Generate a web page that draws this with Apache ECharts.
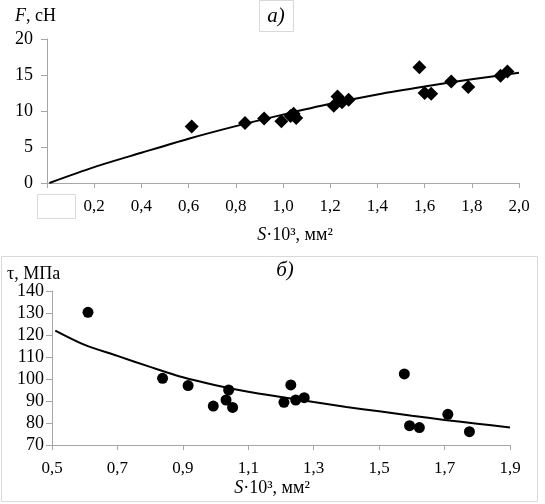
<!DOCTYPE html>
<html>
<head>
<meta charset="utf-8">
<script src="https://cdn.jsdelivr.net/npm/echarts@6/dist/echarts.min.js"></script>
<style>
  html, body { margin: 0; padding: 0; background: #fff; }
  #chart { width: 545px; height: 504px; }
</style>
</head>
<body>
<div id="chart"></div>
<script>
// верхний график (а): F от S
var sTop = [0.613, 0.839, 0.920, 0.993, 1.032, 1.045, 1.056, 1.215, 1.231, 1.250, 1.278, 1.578, 1.600, 1.628, 1.713, 1.785, 1.922, 1.951];
var fTop = [7.86, 8.33, 8.97, 8.56, 9.3, 9.63, 9.03, 10.74, 12.03, 11.2, 11.57, 16.06, 12.5, 12.4, 14.1, 13.33, 14.9, 15.5];
var trendTopS = [0.01, 0.2, 0.4, 0.6, 0.8, 1.0, 1.2, 1.4, 1.6, 1.8, 2.0];
var trendTopF = [0, 2.2, 4.2, 6.15, 7.9, 9.5, 11.0, 12.3, 13.4, 14.4, 15.3];
var xTicksTop = [0, 0.2, 0.4, 0.6, 0.8, 1.0, 1.2, 1.4, 1.6, 1.8, 2.0];
var yTicksTop = [0, 5, 10, 15, 20];

// нижний график (б): τ от S
var sBot = [0.610, 0.838, 0.916, 0.993, 1.032, 1.040, 1.052, 1.209, 1.230, 1.245, 1.271, 1.577, 1.593, 1.623, 1.710, 1.776];
var tauBot = [130.3, 100.3, 97.0, 87.7, 90.45, 95.0, 87.1, 89.4, 97.3, 90.45, 91.5, 102.3, 78.8, 77.9, 83.95, 76.05];
var trendBotS = [0.51, 0.6, 0.7, 0.8, 0.9, 1.0, 1.1, 1.2, 1.3, 1.4, 1.5, 1.6, 1.7, 1.8, 1.9];
var trendBotTau = [122, 115.5, 110.5, 105.5, 100.8, 97.2, 94.2, 91.8, 89.5, 87.3, 85.3, 83.3, 81.4, 79.7, 78.0];
var xTicksBot = [0.5, 0.7, 0.9, 1.1, 1.3, 1.5, 1.7, 1.9];
var yTicksBot = [70, 80, 90, 100, 110, 120, 130, 140];

function pairs(xs, ys) {
  return xs.map(function (x, i) { return [x, ys[i]]; });
}

var FONT = 'Liberation Serif';
var axisGray = '#a6a6a6';

function xAxisOpt(grid, min, max, ticks, hideZero) {
  return {
    type: 'value', gridIndex: grid, min: min, max: max,
    axisLine: { show: true, lineStyle: { color: axisGray, width: 1 } },
    axisTick: { show: true, length: 5, lineStyle: { color: axisGray }, customValues: ticks },
    axisLabel: {
      customValues: ticks, margin: 15, color: '#000', fontFamily: FONT, fontSize: 17,
      formatter: function (v) {
        if (hideZero && v === 0) return '';
        return v.toFixed(1).replace('.', ',');
      }
    },
    splitLine: { show: false }
  };
}

function yAxisOpt(grid, min, max, ticks, margin) {
  return {
    type: 'value', gridIndex: grid, min: min, max: max,
    axisLine: { show: true, lineStyle: { color: axisGray, width: 1 } },
    axisTick: { show: true, length: 6, lineStyle: { color: axisGray }, customValues: ticks },
    axisLabel: { customValues: ticks, margin: margin, color: '#000', fontFamily: FONT, fontSize: 18 },
    splitLine: { show: false }
  };
}

var chart = echarts.init(document.getElementById('chart'));

var option = {
  animation: false,
  backgroundColor: '#fff',
  grid: [
    { left: 47, right: 26, top: 39, height: 144 },
    { left: 52, right: 35, top: 291, height: 154 }
  ],
  xAxis: [
    xAxisOpt(0, 0, 2, xTicksTop, true),
    xAxisOpt(1, 0.5, 1.9, xTicksBot, false)
  ],
  yAxis: [
    yAxisOpt(0, 0, 20, yTicksTop, 14),
    yAxisOpt(1, 70, 140, yTicksBot, 8)
  ],
  series: [
    {
      type: 'line', xAxisIndex: 0, yAxisIndex: 0, data: pairs(trendTopS, trendTopF),
      smooth: 0.3, symbol: 'none', lineStyle: { color: '#000', width: 2 }, z: 2
    },
    {
      type: 'scatter', xAxisIndex: 0, yAxisIndex: 0, data: pairs(sTop, fTop),
      symbol: 'diamond', symbolSize: 14, itemStyle: { color: '#000', opacity: 1 }, z: 3
    },
    {
      type: 'line', xAxisIndex: 1, yAxisIndex: 1, data: pairs(trendBotS, trendBotTau),
      smooth: 0.3, symbol: 'none', lineStyle: { color: '#000', width: 2 }, z: 2
    },
    {
      type: 'scatter', xAxisIndex: 1, yAxisIndex: 1, data: pairs(sBot, tauBot),
      symbol: 'circle', symbolSize: 11, itemStyle: { color: '#000', opacity: 1 }, z: 3
    }
  ],
  graphic: [
    // рамка нижнего графика
    { type: 'rect', z: 0, shape: { x: 1.5, y: 256.5, width: 536, height: 245 },
      style: { fill: 'none', stroke: '#d9d9d9', lineWidth: 1 } },
    // заглушка под подписью "0"
    { type: 'rect', z: 100, shape: { x: 37.5, y: 194.5, width: 38, height: 24 },
      style: { fill: '#fff', stroke: '#d9d9d9', lineWidth: 1 } },
    // рамка "а)"
    { type: 'rect', z: 100, shape: { x: 259.5, y: 0.5, width: 34, height: 31 },
      style: { fill: '#fff', stroke: '#d9d9d9', lineWidth: 1 } },
    { type: 'text', z: 101, x: 276, y: 16,
      style: { text: 'а)', fontFamily: FONT, fontSize: 21, fontStyle: 'italic', fill: '#000',
        textAlign: 'center', textVerticalAlign: 'middle' } },
    { type: 'text', z: 101, x: 15, y: 16,
      style: { text: '{i|F}, сН', fontFamily: FONT, fontSize: 18, fill: '#000',
        textAlign: 'left', textVerticalAlign: 'middle',
        rich: { i: { fontStyle: 'italic', fontFamily: FONT, fontSize: 18 } } } },
    { type: 'text', z: 101, x: 295, y: 235,
      style: { text: '{i|S}·10³, мм²', fontFamily: FONT, fontSize: 18, fill: '#000',
        textAlign: 'center', textVerticalAlign: 'middle',
        rich: { i: { fontStyle: 'italic', fontFamily: FONT, fontSize: 18 } } } },
    { type: 'text', z: 101, x: 285, y: 270,
      style: { text: 'б)', fontFamily: FONT, fontSize: 21, fontStyle: 'italic', fill: '#000',
        textAlign: 'center', textVerticalAlign: 'middle' } },
    { type: 'text', z: 101, x: 7, y: 274,
      style: { text: 'τ, МПа', fontFamily: FONT, fontSize: 18, fill: '#000',
        textAlign: 'left', textVerticalAlign: 'middle' } },
    { type: 'text', z: 101, x: 272, y: 488,
      style: { text: '{i|S}·10³, мм²', fontFamily: FONT, fontSize: 18, fill: '#000',
        textAlign: 'center', textVerticalAlign: 'middle',
        rich: { i: { fontStyle: 'italic', fontFamily: FONT, fontSize: 18 } } } }
  ]
};

chart.setOption(option);
</script>
</body>
</html>
